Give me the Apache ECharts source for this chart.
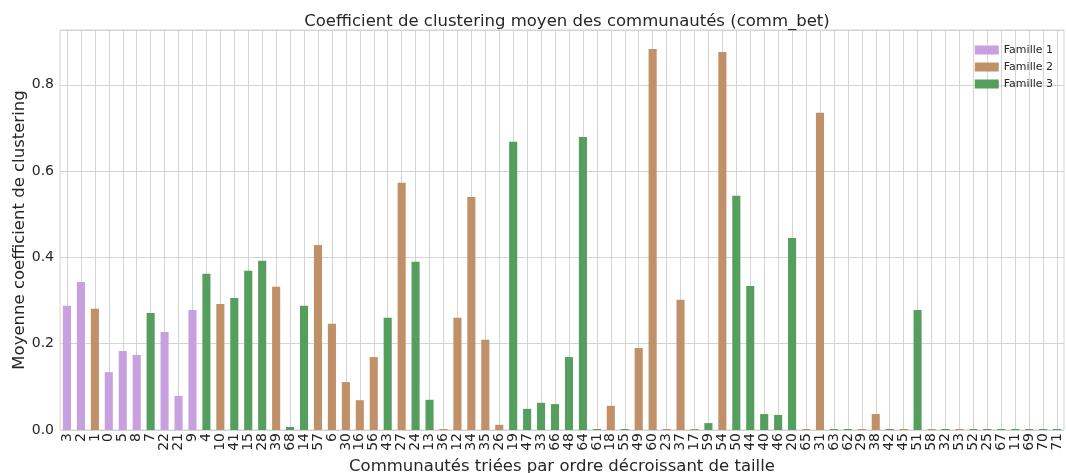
<!DOCTYPE html>
<html lang="fr">
<head>
	<meta charset="UTF-8">
	<title>Coefficient de clustering</title>
	<script src="https://cdn.jsdelivr.net/npm/echarts@6/dist/echarts.min.js"></script>
	<style>
		html,body{margin:0;padding:0;background:#fff;}
	</style>
</head>
<body>
	<div id="chart" style="width:1066px; height:473px;"></div>
<script>
	// communautés, triées par taille décroissante
	var categories = ['3','2','1','0','5','8','7','22','21','9','4','10','41','15','28','39','68','14','57','6',
		'30','16','56','43','27','24','13','36','12','34','35','26','19','47','33','66','48','64','61','18',
		'55','49','60','23','37','17','59','54','50','44','40','46','20','65','31','63','62','29','38','42',
		'45','51','58','32','53','52','25','67','11','69','70','71'];

	// famille de chaque communauté (1, 2 ou 3)
	var families = [1,1,2,1,1,1,3,1,1,1,3,2,3,3,3,2,3,3,2,2,
		2,2,2,3,2,3,3,2,2,2,2,2,3,3,3,3,3,3,3,2,
		3,2,2,2,2,2,3,2,3,3,3,3,3,2,2,3,3,2,2,3,
		2,3,2,3,2,3,3,3,3,3,3,3];

	// coefficient de clustering moyen
	var values = [0.288,0.343,0.281,0.134,0.183,0.174,0.271,0.227,0.079,0.278,0.362,0.292,0.306,0.369,0.392,0.332,0.007,0.288,0.429,0.246,
		0.111,0.069,0.169,0.260,0.573,0.390,0.070,0,0.260,0.540,0.209,0.012,0.668,0.049,0.063,0.060,0.169,0.679,0,0.056,
		0,0.190,0.883,0,0.302,0,0.016,0.876,0.543,0.334,0.037,0.035,0.445,0,0.735,0,0,0,0.037,0,
		0,0.278,0,0,0,0,0,0,0,0,0,0];

	var familyNames = ['Famille 1','Famille 2','Famille 3'];
	var familyColors = ['#c8a0df','#c09068','#559f5e'];

	var txt = '#262626';
	var gridColor = '#d4d4d4';

	var series = familyNames.map(function(name, f){
		return {
			name: name,
			type: 'bar',
			barWidth: '58%',
			barGap: '-100%',
			barMinHeight: 1,
			itemStyle: {color: familyColors[f]},
			data: values.map(function(v, i){ return families[i] === f + 1 ? v : '-'; })
		};
	});

	var myChart = echarts.init(document.getElementById('chart'));
	myChart.setOption({
		animation: false,
		textStyle: {fontFamily: 'DejaVu Sans'},
		title: {
			text: 'Coefficient de clustering moyen des communautés (comm_bet)',
			left: 562, top: 8, textAlign: 'center',
			textStyle: {fontSize: 16.5, fontWeight: 'normal', color: txt, fontFamily: 'DejaVu Sans'}
		},
		legend: {
			orient: 'vertical',
			right: 8, top: 39,
			icon: 'rect',
			itemWidth: 24, itemHeight: 9, itemGap: 5,
			textStyle: {fontSize: 11, lineHeight: 12, color: txt},
			data: familyNames
		},
		grid: {
			left: 60, right: 2, top: 30, bottom: 43,
			outerBoundsMode: 'none',
			containLabel: false,
			show: true, borderColor: gridColor, borderWidth: 1
		},
		xAxis: {
			type: 'category',
			data: categories,
			name: 'Communautés triées par ordre décroissant de taille',
			nameLocation: 'middle', nameGap: 28,
			nameTextStyle: {fontSize: 16.5, color: txt},
			axisLine: {show: false},
			axisTick: {show: false},
			axisLabel: {interval: 0, rotate: 90, fontSize: 14, color: txt, margin: 3},
			splitLine: {show: true, alignWithLabel: true, lineStyle: {color: gridColor, width: 1}}
		},
		yAxis: {
			type: 'value',
			min: 0, max: 0.927, interval: 0.2,
			name: 'Moyenne coefficient de clustering',
			nameLocation: 'middle', nameGap: 32,
			nameMoveOverlap: false,
			nameTextStyle: {fontSize: 16.5, color: txt},
			axisLine: {show: false},
			axisTick: {show: false},
			axisLabel: {fontSize: 14, color: txt, margin: 6, formatter: function(v){ return v > 0.9 ? '' : v.toFixed(1); }},
			splitLine: {lineStyle: {color: gridColor, width: 1}}
		},
		series: series
	});
</script>
</body>
</html>
